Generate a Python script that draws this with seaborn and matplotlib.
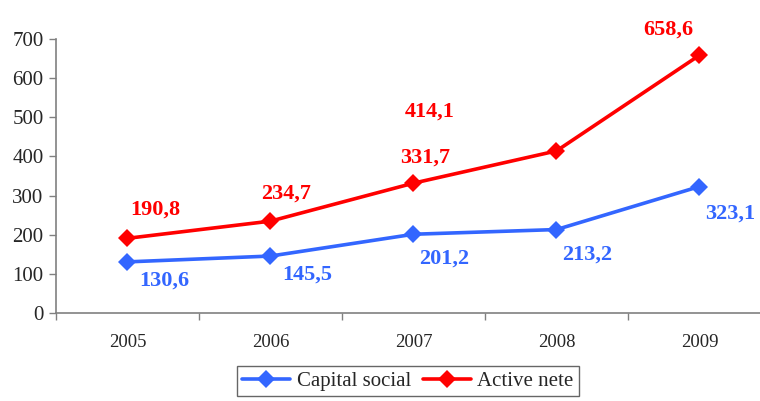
import pandas as pd
import matplotlib.pyplot as plt
import seaborn as sns

# Values (mil. lei)
years = ["2005", "2006", "2007", "2008", "2009"]
capital_social = [130.6, 145.5, 201.2, 213.2, 323.1]
active_nete = [190.8, 234.7, 331.7, 414.1, 658.6]
series_names = ["Capital social", "Active nete"]
colors = ["#3366FF", "#FF0000"]

df = pd.DataFrame({
    "An": years * 2,
    "Valoare": capital_social + active_nete,
    "Serie": [series_names[0]] * 5 + [series_names[1]] * 5,
})

sns.set_theme(style="white")
plt.rcParams["font.family"] = ["Liberation Serif", "DejaVu Serif"]

fig = plt.figure(figsize=(7.6, 4.01), dpi=100)
ax = fig.add_axes([56 / 760, 88 / 401, 715 / 760, 274 / 401])

sns.lineplot(data=df, x="An", y="Valoare", hue="Serie", palette=colors,
             style="Serie", markers=["D", "D"], dashes=False,
             linewidth=2.6, markersize=9, markeredgewidth=0, ax=ax)

ax.set_xlim(-0.5, 4.5)
ax.set_ylim(0, 700)
ax.set_yticks(range(0, 701, 100))
ax.set_xticks(range(len(years)))
ax.set_xticklabels(years)
ax.set_xticks([i - 0.5 for i in range(len(years) + 1)], minor=True)
ax.tick_params(axis="x", which="major", length=0, labelsize=13.5, pad=15)
ax.tick_params(axis="x", which="minor", length=5, width=1, color="#808080", bottom=True)
ax.tick_params(axis="y", length=5, width=1, color="#808080", labelsize=15, left=True, pad=4)
ax.set_xlabel("")
ax.set_ylabel("")
for side in ["top", "right"]:
    ax.spines[side].set_visible(False)
for side in ["left", "bottom"]:
    ax.spines[side].set_color("#808080")
    ax.spines[side].set_linewidth(1.2)

# data labels (offsets in pixels)
red_off = [(28, 29), (16, 28), (12, 26), (-127, 39), (-31, 26)]
blue_off = [(37, -19), (37, -19), (31, -24), (31, -25), (31, -27)]
for i, v in enumerate(active_nete):
    ax.annotate(f"{v:.1f}".replace(".", ","), (i, v), xytext=red_off[i],
                textcoords="offset pixels", ha="center", va="center",
                color=colors[1], fontsize=16, fontweight="bold")
for i, v in enumerate(capital_social):
    ax.annotate(f"{v:.1f}".replace(".", ","), (i, v), xytext=blue_off[i],
                textcoords="offset pixels", ha="center", va="center",
                color=colors[0], fontsize=16, fontweight="bold")

handles, labels = ax.get_legend_handles_labels()
ax.get_legend().remove()
leg = fig.legend(handles, labels, loc="upper center", ncol=2,
                 bbox_to_anchor=(408 / 760, 1 - 362 / 401), fontsize=15,
                 frameon=True, fancybox=False, handlelength=2.3,
                 columnspacing=0.6, handletextpad=0.3, borderpad=0.25,
                 borderaxespad=0.2)
leg.get_frame().set_edgecolor("#404040")
leg.get_frame().set_linewidth(1)

fig.savefig("out.png", dpi=100)
